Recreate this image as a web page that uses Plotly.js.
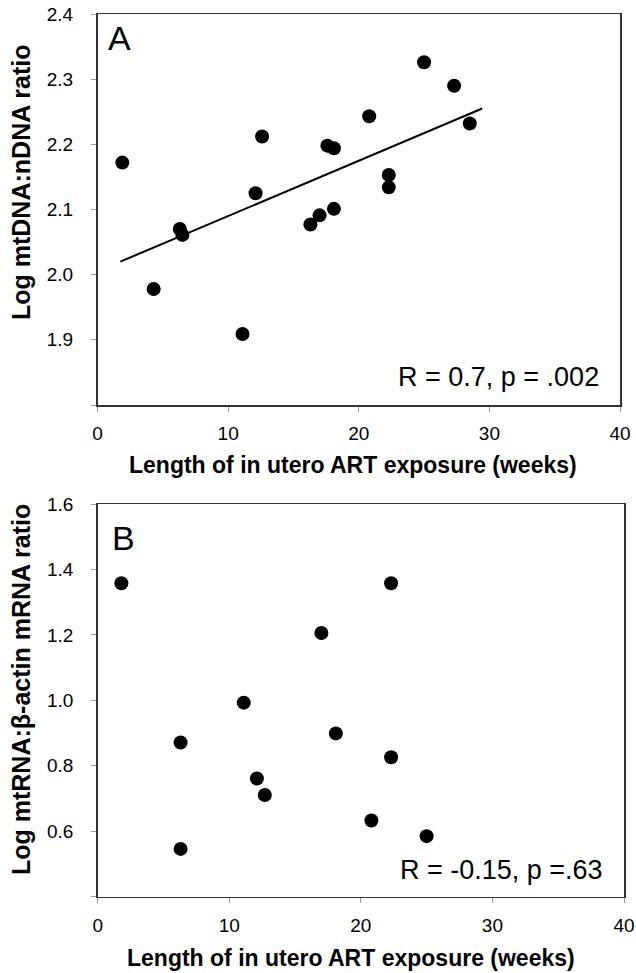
<!DOCTYPE html>
<html><head><meta charset="utf-8">
<script src="https://cdn.plot.ly/plotly-3.0.1.min.js"></script>
<style>html,body{margin:0;padding:0;background:#fff}#chart{width:636px;height:973px}</style>
</head><body><div id="chart"></div>
<script>
// Panel A: mtDNA:nDNA vs weeks of exposure
const mtdnaWeeks = [1.9, 4.3, 6.3, 6.5, 11.1, 12.1, 12.6, 16.3, 17.0, 17.6, 18.1, 18.1, 20.8, 22.3, 22.3, 25.0, 27.3, 28.5];
const mtdnaRatio = [2.172, 1.978, 2.070, 2.061, 1.909, 2.125, 2.212, 2.077, 2.091, 2.198, 2.194, 2.101, 2.243, 2.153, 2.134, 2.326, 2.290, 2.232];
const fitWeeks = [1.75, 29.45];
const fitRatio = [2.020, 2.255];
// Panel B: mtRNA:beta-actin mRNA vs weeks of exposure
const mtrnaWeeks = [1.8, 6.3, 6.3, 11.1, 12.1, 12.7, 17.0, 18.1, 20.8, 22.3, 22.3, 25.0];
const mtrnaRatio = [1.358, 0.871, 0.546, 0.993, 0.761, 0.711, 1.206, 0.899, 0.633, 1.358, 0.826, 0.585];
const xTickVals = [0, 10, 20, 30, 40];
const yTickValsA = [1.8, 1.9, 2.0, 2.1, 2.2, 2.3, 2.4];
const yTickTextA = ['', '1.9', '2.0', '2.1', '2.2', '2.3', '2.4'];
const yTickValsB = [0.4, 0.6, 0.8, 1.0, 1.2, 1.4, 1.6];
const yTickTextB = ['', '0.6', '0.8', '1.0', '1.2', '1.4', '1.6'];
const xTitle = 'Length of in utero ART exposure (weeks)';
const yTitleA = 'Log mtDNA:nDNA ratio';
const yTitleB = 'Log mtRNA:β-actin mRNA ratio';
const statA = 'R = 0.7, p = .002';
const statB = 'R = -0.15, p =.63';

const W = 636, H = 973;
const px = x => x / W;
const py = y => 1 - y / H;
const FONT = 'Arial, "Liberation Sans", sans-serif';

const marker = {size: 14, color: '#000', line: {width: 0}};
const traces = [
  {x: mtdnaWeeks, y: mtdnaRatio, type: 'scatter', mode: 'markers', marker: marker, xaxis: 'x', yaxis: 'y', hoverinfo: 'skip'},
  {x: fitWeeks, y: fitRatio, type: 'scatter', mode: 'lines', line: {color: '#000', width: 2}, xaxis: 'x', yaxis: 'y', hoverinfo: 'skip'},
  {x: mtrnaWeeks, y: mtrnaRatio, type: 'scatter', mode: 'markers', marker: marker, xaxis: 'x2', yaxis: 'y2', hoverinfo: 'skip'}
];

function axis(extra) {
  return Object.assign({
    showline: true, linecolor: '#333', linewidth: 1.5, mirror: true,
    ticks: 'outside', ticklen: 5, tickcolor: '#999', tickwidth: 1,
    showgrid: false, zeroline: false, fixedrange: true,
    tickfont: {family: FONT, size: 19, color: '#000'}
  }, extra);
}

const layout = {
  width: W, height: H,
  margin: {l: 0, r: 0, t: 0, b: 0},
  paper_bgcolor: '#fff', plot_bgcolor: '#fff',
  showlegend: false,
  font: {family: FONT, color: '#000'},
  xaxis: axis({domain: [px(97.5), px(620)], range: [0, 40], tickvals: xTickVals, anchor: 'y', ticklabelstandoff: 6}),
  yaxis: axis({domain: [py(405), py(14)], range: [1.8, 2.4], tickvals: yTickValsA, ticktext: yTickTextA, anchor: 'x', ticklabelstandoff: 14}),
  xaxis2: axis({domain: [px(97.7), px(624)], range: [0, 40], tickvals: xTickVals, anchor: 'y2', ticklabelstandoff: 6}),
  yaxis2: axis({domain: [py(896.7), py(504)], range: [0.4, 1.6], tickvals: yTickValsB, ticktext: yTickTextB, anchor: 'x2', ticklabelstandoff: 14}),
  annotations: [
    {text: 'A', xref: 'paper', yref: 'paper', x: px(106), y: py(38), xanchor: 'left', yanchor: 'middle', showarrow: false, font: {size: 34, family: FONT}},
    {text: 'B', xref: 'paper', yref: 'paper', x: px(110), y: py(538), xanchor: 'left', yanchor: 'middle', showarrow: false, font: {size: 34, family: FONT}},
    {text: statA, xref: 'paper', yref: 'paper', x: px(601), y: py(377), xanchor: 'right', yanchor: 'middle', showarrow: false, font: {size: 27, family: FONT}},
    {text: statB, xref: 'paper', yref: 'paper', x: px(605), y: py(870), xanchor: 'right', yanchor: 'middle', showarrow: false, font: {size: 27, family: FONT}},
    {text: '<b>' + xTitle + '</b>', xref: 'paper', yref: 'paper', x: px(352.5), y: py(465), xanchor: 'center', yanchor: 'middle', showarrow: false, font: {size: 23, family: FONT}},
    {text: '<b>' + xTitle + '</b>', xref: 'paper', yref: 'paper', x: px(351), y: py(958), xanchor: 'center', yanchor: 'middle', showarrow: false, font: {size: 23, family: FONT}},
    {text: '<b>' + yTitleA + '</b>', xref: 'paper', yref: 'paper', x: px(21), y: py(183), xanchor: 'center', yanchor: 'middle', textangle: -90, showarrow: false, font: {size: 25, family: FONT}},
    {text: '<b>' + yTitleB + '</b>', xref: 'paper', yref: 'paper', x: px(21), y: py(690), xanchor: 'center', yanchor: 'middle', textangle: -90, showarrow: false, font: {size: 25, family: FONT}}
  ]
};

Plotly.newPlot('chart', traces, layout, {displayModeBar: false, staticPlot: true});
</script>
</body></html>
